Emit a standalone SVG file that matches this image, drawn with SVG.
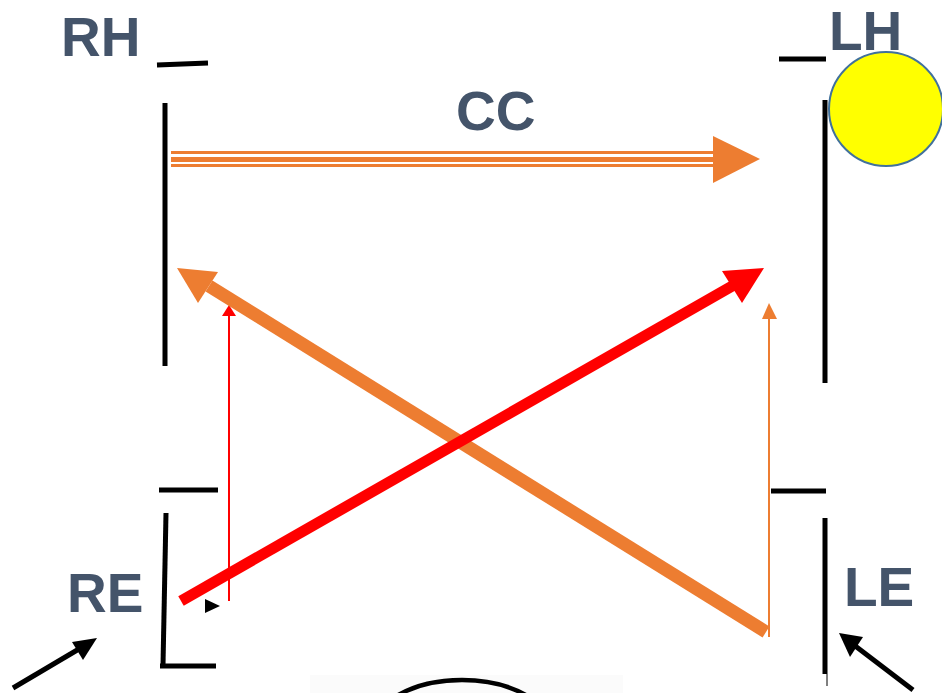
<svg xmlns="http://www.w3.org/2000/svg" width="942" height="693" viewBox="0 0 942 693">
<style>
.lbl{font-family:"Liberation Sans",Arial,sans-serif;font-weight:bold;font-size:55px;fill:#44546A}
.bk{stroke:#000;stroke-width:5;fill:none}
.or{stroke:#ED7D31;fill:none}
.rd{stroke:#FF0000;fill:none}
</style>
<rect width="942" height="693" fill="#fff"/>
<g id="RH">
<text class="lbl" x="61" y="56">RH</text>
<line class="bk" x1="157" y1="65" x2="208" y2="63"/>
<line class="bk" x1="165" y1="103" x2="165" y2="366"/>
</g>
<g id="LH">
<text class="lbl" x="829" y="50">LH</text>
<line class="bk" x1="779" y1="59" x2="826" y2="59"/>
<line class="bk" x1="825" y1="100" x2="825" y2="383"/>
</g>
<g id="sun">
<circle cx="886" cy="109" r="57" fill="#FFFF00" stroke="#41719C" stroke-width="2"/>
</g>
<g id="RE">
<text class="lbl" x="67" y="612">RE</text>
<line class="bk" x1="159" y1="490" x2="218" y2="490"/>
<line class="bk" x1="166" y1="513" x2="163" y2="665"/>
<line class="bk" x1="160" y1="666" x2="216" y2="666"/>
<polygon points="205,599 220,606 205,613" fill="#000"/>
</g>
<g id="LE">
<text class="lbl" x="844" y="606">LE</text>
<line class="bk" x1="771" y1="491" x2="826" y2="491"/>
<line class="bk" x1="825" y1="518" x2="825" y2="674"/>
<line x1="827" y1="674" x2="827" y2="686" stroke="#000" stroke-width="1"/>
</g>
<g id="CC">
<text class="lbl" x="456" y="130">CC</text>
</g>
<g id="eye">
<rect x="310" y="675" width="313" height="18" fill="#fbfbfb"/>
<ellipse cx="462" cy="731" rx="90" ry="51" fill="none" stroke="#000" stroke-width="4.5"/>
</g>
<g id="connectors">
<line class="or" x1="171" y1="152.5" x2="716" y2="152.5" stroke-width="3"/>
<line class="or" x1="171" y1="159.5" x2="716" y2="159.5" stroke-width="5"/>
<line class="or" x1="171" y1="165.5" x2="716" y2="165.5" stroke-width="3"/>
<polygon points="713,136 760,159 713,183" fill="#ED7D31"/>
<line class="rd" x1="229" y1="601" x2="229" y2="314" stroke-width="2"/>
<polygon points="229,305 222,316 236,316" fill="#FF0000"/>
<line class="or" x1="769" y1="637" x2="769" y2="317" stroke-width="2"/>
<polygon points="769,303 762,319 777,319" fill="#ED7D31"/>
<line class="or" x1="766" y1="632" x2="209" y2="286" stroke-width="13"/>
<polygon points="177,268 218,272 198,303" fill="#ED7D31"/>
<line class="rd" x1="181" y1="601" x2="734" y2="285" stroke-width="11"/>
<polygon points="764,268 722,271 742,303" fill="#FF0000"/>
<line x1="13" y1="688" x2="84" y2="646" stroke="#000" stroke-width="5"/>
<polygon points="97,638 72,642 83,660" fill="#000"/>
<line x1="913" y1="690" x2="850" y2="642" stroke="#000" stroke-width="5"/>
<polygon points="839,633 863,637 850,657" fill="#000"/>
</g>
</svg>
